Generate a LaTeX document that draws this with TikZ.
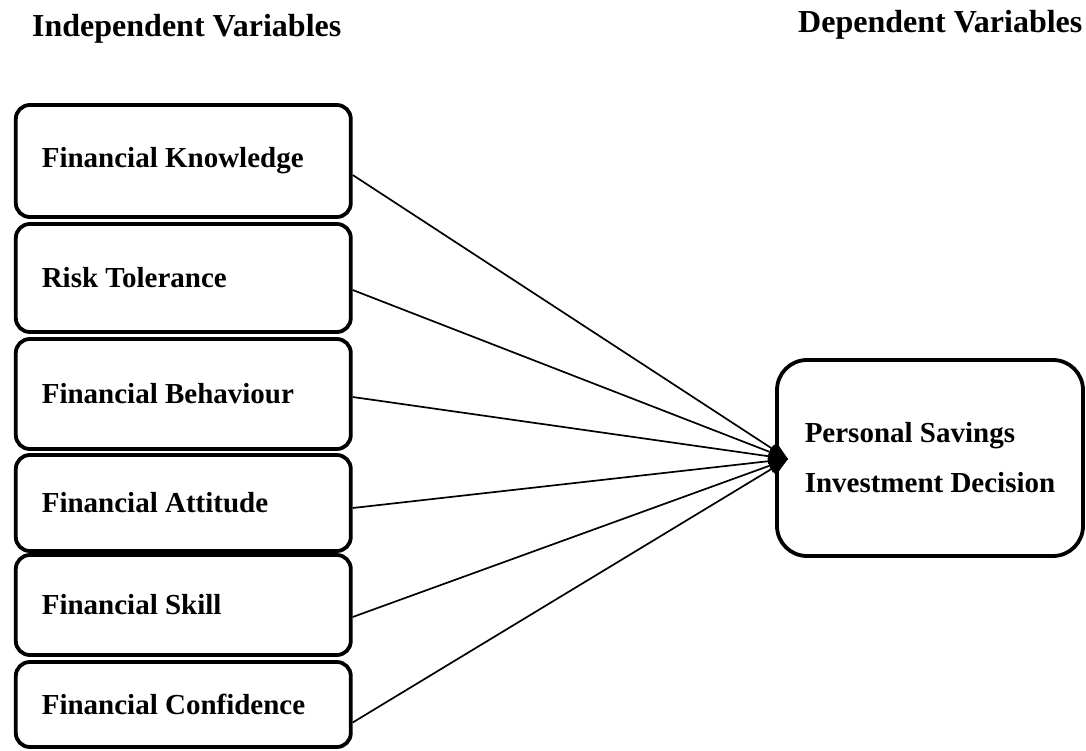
\documentclass[tikz,border=0pt]{standalone}
\usepackage{fontspec}
\setmainfont{Liberation Serif}
\usetikzlibrary{arrows.meta}
\begin{document}
\begin{tikzpicture}[x=1pt,y=1pt,
  ivbox/.style={draw, line width=3.8pt, rounded corners=14pt, anchor=west,
    text width=283pt, inner xsep=26pt, inner ysep=0pt, align=left,
    font=\bfseries\fontsize{29}{34}\selectfont,
    execute at begin node={\spaceskip=0.25em\relax}},
  dvbox/.style={draw, line width=3.8pt, rounded corners=30pt,
    minimum width=306pt, minimum height=196pt, inner sep=0pt, align=left,
    font=\bfseries\fontsize{29}{50}\selectfont,
    execute at begin node={\spaceskip=0.25em\relax}},
  header/.style={anchor=base west, inner sep=0pt, font=\bfseries\fontsize{32}{38}\selectfont},
  link/.style={line width=1.7pt, -{Triangle[length=19pt,width=15pt]}}
]
\useasboundingbox (0,0) rectangle (1086,-751);

\node[header] (hi) at (32,-37) {Independent Variables};
\node[header] (hd) at (798,-33) {Dependent Variables};

\node[ivbox, minimum height=112pt] (k1) at (13.9,-161) {Financial Knowledge};
\node[ivbox, minimum height=108pt] (k2) at (13.9,-278) {Risk Tolerance};
\node[ivbox, minimum height=110pt] (k3) at (13.9,-394) {Financial Behaviour};
\node[ivbox, minimum height=96pt]  (k4) at (13.9,-503) {Financial Attitude};
\node[ivbox, minimum height=100pt] (k5) at (13.9,-605) {Financial Skill};
\node[ivbox, minimum height=85pt]  (k6) at (13.9,-704.5) {Financial Confidence};

\node[dvbox] (dv) at (930,-458) {Personal Savings\\Investment Decision};

\coordinate (tip) at (788,-459);

\draw[link] ([yshift=-14pt]k1.east) -- (tip);
\draw[link] ([yshift=-12pt]k2.east) -- (tip);
\draw[link] ([yshift=-3pt]k3.east) -- (tip);
\draw[link] ([yshift=-5pt]k4.east) -- (tip);
\draw[link] ([yshift=-12pt]k5.east) -- (tip);
\draw[link] ([yshift=-18pt]k6.east) -- (tip);
\end{tikzpicture}
\end{document}
